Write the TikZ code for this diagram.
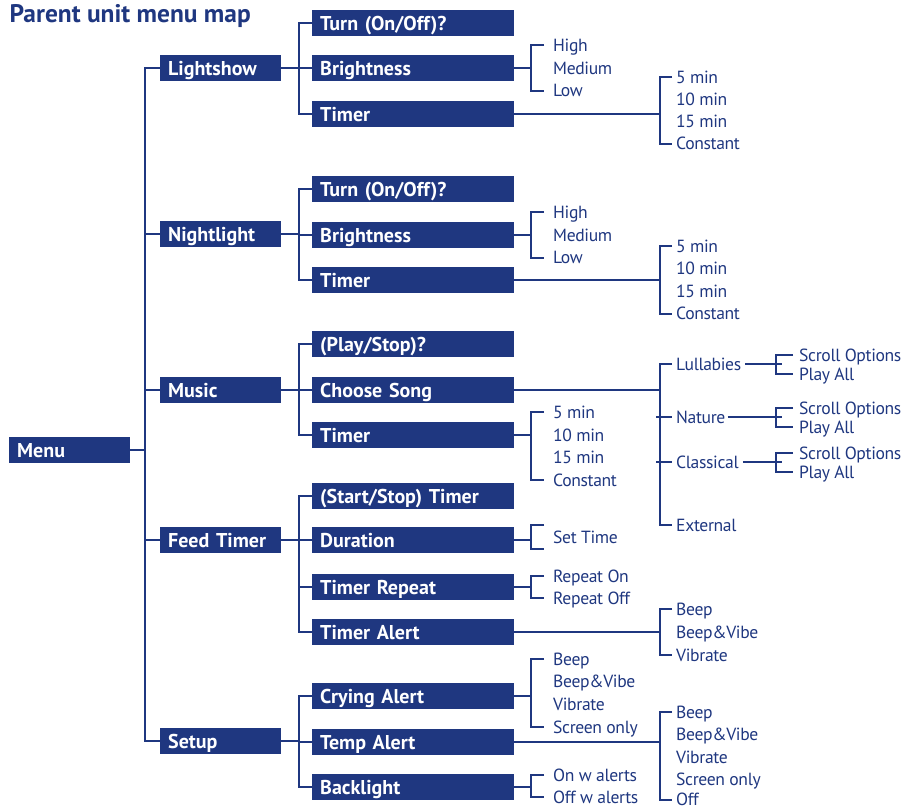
\documentclass[tikz,border=0pt]{standalone}
\usepackage{fontspec}
\setmainfont{PT Sans}
\newfontfamily\leaffont{PT Sans}[LetterSpace=-2]
\definecolor{navy}{RGB}{31,55,128}
\tikzset{
 box/.style={fill=navy, text=white, font=\bfseries\fontsize{20}{20}\selectfont, anchor=west, minimum height=26pt, inner xsep=8pt, inner ysep=0pt, align=left, text height=14pt, text depth=0pt},
 lvlone/.style={box, minimum width=121pt, text width=105pt},
 lvltwo/.style={box, minimum width=202pt, text width=186pt},
 leaf/.style={text=navy, font=\leaffont\fontsize{17.6}{18}\selectfont, anchor=west, inner sep=0pt, text height=12.6pt, text depth=0pt},
 conn/.style={draw=navy, line width=2pt},
}
% #1 parent, #2 bracket x, #3 gap, #4 first leaf, #5 last leaf
\newcommand\brk[5]{%
  \coordinate (#1j) at (#1.east -| #2,0);
  \coordinate (#1a) at ([xshift=-#3]#4.west);
  \coordinate (#1b) at ([xshift=-#3]#5.west);
  \draw[conn] (#1.east) -- (#1j);
  \draw[conn] (#1a) -- (#1a -| #1j) -- (#1b -| #1j) -- (#1b);
}
\newcommand\midtick[3]{% #1 joint parent, #2 leaf, #3 gap
  \draw[conn] ([xshift=-#3]#2.west -| #1j) -- ([xshift=-#3]#2.west);
}
\begin{document}
\begin{tikzpicture}[x=1pt,y=-1pt]
\useasboundingbox (0,0) rectangle (905,807);
\node[anchor=base west, inner sep=0pt, text=navy, font=\bfseries\fontsize{25.4}{26}\selectfont] (title) at (9.5,22) {Parent unit menu map};

% Menu and level 1
\node[lvlone] (menu) at (9,450) {Menu};
\node[lvlone] (ls) at (160,68) {Lightshow};
\node[lvlone] (nl) at (160,234) {Nightlight};
\node[lvlone] (mu) at (160,390) {Music};
\node[lvlone] (ft) at (160,540) {Feed Timer};
\node[lvlone] (su) at (160,741) {Setup};
\brk{menu}{145}{0pt}{ls}{su}
\midtick{menu}{nl}{0pt}
\midtick{menu}{mu}{0pt}
\midtick{menu}{ft}{0pt}

% Lightshow
\node[lvltwo] (lsT) at (312,23) {Turn (On/Off)?};
\node[lvltwo] (lsB) at (312,68) {Brightness};
\node[lvltwo] (lsM) at (312,114) {Timer};
\brk{ls}{299}{0pt}{lsT}{lsM}
\midtick{ls}{lsB}{0pt}
\node[leaf] (lsB1) at (553,45) {High};
\node[leaf] (lsB2) at (553,68) {Medium};
\node[leaf] (lsB3) at (553,90.5) {Low};
\brk{lsB}{531}{9pt}{lsB1}{lsB3}
\node[leaf] (lsM1) at (676,77) {5 min};
\node[leaf] (lsM2) at (676,99) {10 min};
\node[leaf] (lsM3) at (676,121) {15 min};
\node[leaf] (lsM4) at (676,143.5) {Constant};
\brk{lsM}{660}{4pt}{lsM1}{lsM4}

% Nightlight
\node[lvltwo] (nlT) at (312,189) {Turn (On/Off)?};
\node[lvltwo] (nlB) at (312,235) {Brightness};
\node[lvltwo] (nlM) at (312,280) {Timer};
\brk{nl}{299}{0pt}{nlT}{nlM}
\midtick{nl}{nlB}{0pt}
\node[leaf] (nlB1) at (553,212) {High};
\node[leaf] (nlB2) at (553,235) {Medium};
\node[leaf] (nlB3) at (553,257.5) {Low};
\brk{nlB}{531}{9pt}{nlB1}{nlB3}
\node[leaf] (nlM1) at (676,246) {5 min};
\node[leaf] (nlM2) at (676,268.5) {10 min};
\node[leaf] (nlM3) at (676,291) {15 min};
\node[leaf] (nlM4) at (676,313.5) {Constant};
\brk{nlM}{660}{4pt}{nlM1}{nlM4}

% Music
\node[lvltwo] (muP) at (312,344) {(Play/Stop)?};
\node[lvltwo] (muC) at (312,390) {Choose Song};
\node[lvltwo] (muM) at (312,435) {Timer};
\brk{mu}{299}{0pt}{muP}{muM}
\midtick{mu}{muC}{0pt}
\node[leaf] (muC1) at (676,364) {Lullabies};
\node[leaf] (muC2) at (676,417) {Nature};
\node[leaf] (muC3) at (676,462) {Classical};
\node[leaf] (muC4) at (676,525) {External};
\brk{muC}{660}{4pt}{muC1}{muC4}
\midtick{muC}{muC2}{4pt}
\midtick{muC}{muC3}{4pt}
\node[leaf] (lu1) at (799,355) {Scroll Options};
\node[leaf] (lu2) at (799,374) {Play All};
\coordinate (muC1e) at ([xshift=4pt]muC1.east);
\coordinate (lu) at (782,364);
\draw[conn] (muC1e) -- (lu);
\draw[conn] ([xshift=-6pt]lu1.west) -- ([xshift=-6pt]lu1.west -| lu) -- ([xshift=-6pt]lu2.west -| lu) -- ([xshift=-6pt]lu2.west);
\node[leaf] (na1) at (799,408) {Scroll Options};
\node[leaf] (na2) at (799,427) {Play All};
\coordinate (muC2e) at ([xshift=2pt]muC2.east);
\coordinate (na) at (782,417);
\draw[conn] (muC2e) -- (na);
\draw[conn] ([xshift=-6pt]na1.west) -- ([xshift=-6pt]na1.west -| na) -- ([xshift=-6pt]na2.west -| na) -- ([xshift=-6pt]na2.west);
\node[leaf] (cl1) at (799,453) {Scroll Options};
\node[leaf] (cl2) at (799,472) {Play All};
\coordinate (muC3e) at ([xshift=4pt]muC3.east);
\coordinate (cl) at (782,462);
\draw[conn] (muC3e) -- (cl);
\draw[conn] ([xshift=-6pt]cl1.west) -- ([xshift=-6pt]cl1.west -| cl) -- ([xshift=-6pt]cl2.west -| cl) -- ([xshift=-6pt]cl2.west);
\node[leaf] (muM1) at (553,412) {5 min};
\node[leaf] (muM2) at (553,435) {10 min};
\node[leaf] (muM3) at (553,457.5) {15 min};
\node[leaf] (muM4) at (553,480) {Constant};
\brk{muM}{531}{9pt}{muM1}{muM4}

% Feed Timer
\node[lvltwo] (ftS) at (312,496) {(Start/Stop) Timer};
\node[lvltwo] (ftD) at (312,540) {Duration};
\node[lvltwo] (ftR) at (312,587) {Timer Repeat};
\node[lvltwo] (ftA) at (312,632) {Timer Alert};
\brk{ft}{299}{0pt}{ftS}{ftA}
\midtick{ft}{ftD}{0pt}
\midtick{ft}{ftR}{0pt}
\node[leaf] (ftD1) at (553,537) {Set Time};
\coordinate (ftDa) at (544,525);
\coordinate (ftDb) at (544,549);
\coordinate (ftDj) at (531,540);
\draw[conn] (ftD.east) -- (ftDj);
\draw[conn] (ftDa) -- (ftDa -| ftDj) -- (ftDb -| ftDj) -- (ftDb);
\node[leaf] (ftR1) at (553,576) {Repeat On};
\node[leaf] (ftR2) at (553,598) {Repeat Off};
\brk{ftR}{531}{9pt}{ftR1}{ftR2}
\node[leaf] (ftA1) at (676,609) {Beep};
\node[leaf] (ftA2) at (676,632) {Beep\&Vibe};
\node[leaf] (ftA3) at (676,655) {Vibrate};
\brk{ftA}{660}{4pt}{ftA1}{ftA3}

% Setup
\node[lvltwo] (suC) at (312,696) {Crying Alert};
\node[lvltwo] (suT) at (312,742) {Temp Alert};
\node[lvltwo] (suB) at (312,787) {Backlight};
\brk{su}{299}{0pt}{suC}{suB}
\midtick{su}{suT}{0pt}
\node[leaf] (suC1) at (553,659) {Beep};
\node[leaf] (suC2) at (553,681.5) {Beep\&Vibe};
\node[leaf] (suC3) at (553,704) {Vibrate};
\node[leaf] (suC4) at (553,727) {Screen only};
\brk{suC}{531}{9pt}{suC1}{suC4}
\node[leaf] (suT1) at (676,712) {Beep};
\node[leaf] (suT2) at (676,734.5) {Beep\&Vibe};
\node[leaf] (suT3) at (676,757) {Vibrate};
\node[leaf] (suT4) at (676,779.5) {Screen only};
\node[leaf] (suT5) at (676,799.5) {Off};
\brk{suT}{660}{4pt}{suT1}{suT5}
\node[leaf] (suB1) at (553,775) {On w alerts};
\node[leaf] (suB2) at (553,797) {Off w alerts};
\brk{suB}{531}{9pt}{suB1}{suB2}
\end{tikzpicture}
\end{document}
